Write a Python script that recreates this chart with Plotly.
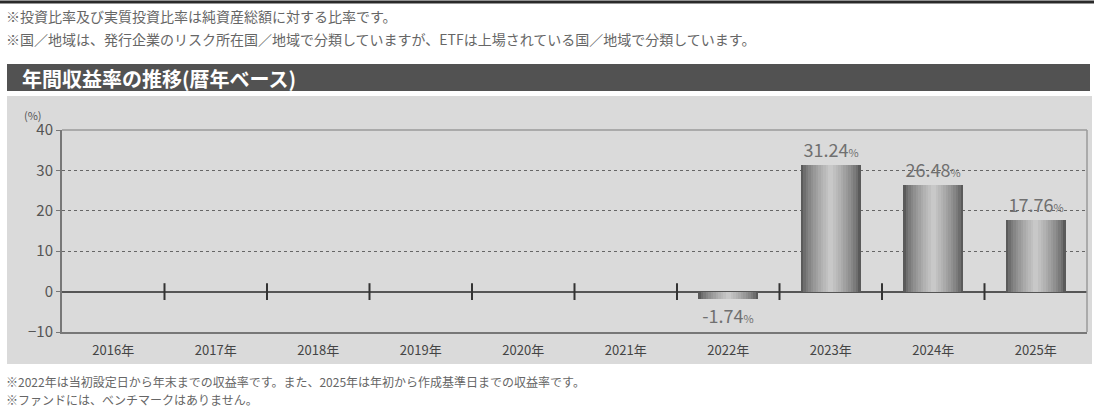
import plotly.graph_objects as go

years = ["2016年", "2017年", "2018年", "2019年", "2020年", "2021年", "2022年", "2023年", "2024年", "2025年"]
returns = [None, None, None, None, None, None, -1.74, 31.24, 26.48, 17.76]
y_ticks = [-10, 0, 10, 20, 30, 40]

title_text = "年間収益率の推移(暦年ベース)"
top_notes = [
    "※投資比率及び実質投資比率は純資産総額に対する比率です。",
    "※国／地域は、発行企業のリスク所在国／地域で分類していますが、ETFは上場されている国／地域で分類しています。",
]
bottom_notes = [
    "※2022年は当初設定日から年末までの収益率です。また、2025年は年初から作成基準日までの収益率です。",
    "※ファンドには、ベンチマークはありません。",
]

W, H = 1094, 412
L, R, T, B = 62, 1087, 130, 332
FONT = "Noto Sans CJK JP"


def px(x):
    return (x - L) / (R - L)


def py(y):
    return (B - y) / (B - T)


xs = list(range(len(years)))
fig = go.Figure()

# cylinder-like shading via overlaid bars of decreasing width
N = 12
bw = 0.585
dark = (90, 90, 90)
light = (200, 200, 200)
for k in range(N):
    f = k / (N - 1)
    c = tuple(int(dark[i] + (light[i] - dark[i]) * (f ** 0.7)) for i in range(3))
    width = bw * (1 - k / N)
    kw = {}
    if k == 0:
        kw = dict(
            text=[("" if v is None else f"{v:.2f}<span style='font-size:11px'>%</span>") for v in returns],
            textposition="outside",
            textfont=dict(family=FONT, size=18, color="#707070"),
            cliponaxis=False,
            constraintext="none",
        )
    fig.add_trace(go.Bar(
        x=xs, y=returns, width=width,
        marker=dict(color="rgb(%d,%d,%d)" % c, line=dict(width=0)),
        hoverinfo="skip", showlegend=False, **kw,
    ))

# category boundary ticks on the zero line
fig.add_trace(go.Scatter(
    x=[i + 0.5 for i in xs[:-1]], y=[0] * (len(xs) - 1), mode="markers",
    marker=dict(symbol="line-ns", size=12, line=dict(width=2, color="#333333")),
    hoverinfo="skip", showlegend=False, cliponaxis=False,
))

shapes = [
    dict(type="line", xref="paper", yref="paper", x0=px(0), x1=px(W), y0=py(2), y1=py(2),
         line=dict(color="#2a2a2a", width=3), layer="above"),
    dict(type="rect", xref="paper", yref="paper", x0=px(7), x1=px(1090), y0=py(91), y1=py(64),
         fillcolor="#525252", line=dict(width=0), layer="below"),
    dict(type="rect", xref="paper", yref="paper", x0=px(7), x1=px(1092), y0=py(364), y1=py(96),
         fillcolor="#dadada", line=dict(width=0), layer="below"),
    dict(type="line", xref="paper", yref="paper", x0=0, x1=1, y0=1, y1=1,
         line=dict(color="#9a9a9a", width=1.5), layer="above"),
    dict(type="line", xref="paper", yref="paper", x0=1, x1=1, y0=0, y1=1,
         line=dict(color="#9a9a9a", width=1.5), layer="above"),
]

annotations = [
    dict(text=title_text, xref="paper", yref="paper", x=px(20), y=py(78), xanchor="left", yanchor="middle",
         showarrow=False, font=dict(family=FONT, size=20, color="white", weight="bold")),
    dict(text="(%)", xref="paper", yref="paper", x=px(22), y=py(115), xanchor="left", yanchor="middle",
         showarrow=False, font=dict(family=FONT, size=11, color="#555555")),
]
for i, t in enumerate(top_notes):
    annotations.append(dict(text=t, xref="paper", yref="paper", x=px(4), y=py(16 + 23 * i),
                            xanchor="left", yanchor="middle", showarrow=False,
                            font=dict(family=FONT, size=14, color="#666666")))
for i, t in enumerate(bottom_notes):
    annotations.append(dict(text=t, xref="paper", yref="paper", x=px(4), y=py(381 + 18 * i),
                            xanchor="left", yanchor="middle", showarrow=False,
                            font=dict(family=FONT, size=12, color="#666666")))

fig.update_layout(
    width=W, height=H,
    margin=dict(l=L, r=W - R, t=T, b=H - B, pad=0),
    paper_bgcolor="white", plot_bgcolor="white",
    barmode="overlay", bargap=0,
    shapes=shapes, annotations=annotations,
    font=dict(family=FONT),
    xaxis=dict(
        range=[-0.5, len(years) - 0.5], tickvals=xs, ticktext=years,
        showgrid=False, zeroline=False, showline=True, linecolor="#777777", linewidth=2,
        ticks="", ticklabelstandoff=5,
        tickfont=dict(family=FONT, size=13, color="#444444"), fixedrange=True,
    ),
    yaxis=dict(
        range=[-10, 40], tickvals=y_ticks, showgrid=True, gridcolor="#666666", griddash="dot",
        gridwidth=1, zeroline=True, zerolinecolor="#555555", zerolinewidth=2,
        showline=True, linecolor="#777777", linewidth=2, ticks="outside", ticklen=4,
        tickcolor="#777777", tickfont=dict(family=FONT, size=15, color="#555555"), fixedrange=True,
    ),
)

fig.write_html("out.html", config={"displayModeBar": False},
               post_script="document.body.style.margin='0px';document.body.style.overflow='hidden';")
